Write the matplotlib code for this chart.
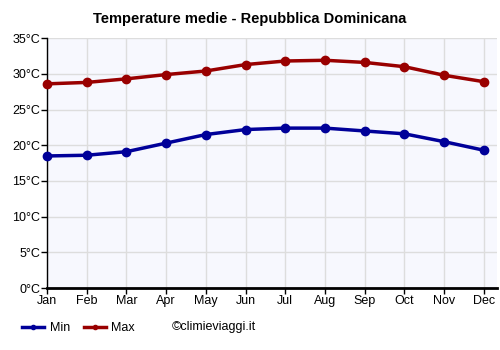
import matplotlib
matplotlib.use("Agg")
import matplotlib.pyplot as plt
from matplotlib.lines import Line2D

months = ['Jan', 'Feb', 'Mar', 'Apr', 'May', 'Jun', 'Jul', 'Aug', 'Sep', 'Oct', 'Nov', 'Dec']
t_min = [18.5, 18.6, 19.1, 20.3, 21.5, 22.2, 22.4, 22.4, 22.0, 21.6, 20.5, 19.3]
t_max = [28.6, 28.8, 29.3, 29.9, 30.4, 31.3, 31.8, 31.9, 31.6, 31.0, 29.8, 28.9]
yticks = [0, 5, 10, 15, 20, 25, 30, 35]

plt.rcParams['font.family'] = ['Liberation Sans', 'DejaVu Sans']

fig = plt.figure(figsize=(5, 3.5), dpi=100)
ax = fig.add_axes([0.094, 0.177, 0.9, 0.714])
ax.set_facecolor('#f7f8fe')

x = list(range(len(months)))
c_min = '#000099'
c_max = '#990000'
ax.plot(x, t_min, color=c_min, lw=2.5, marker='o', ms=6, zorder=3, clip_on=False)
ax.plot(x, t_max, color=c_max, lw=2.5, marker='o', ms=6, zorder=3, clip_on=False)

ax.set_xlim(0, 11.33)
ax.set_ylim(0, 35)
ax.set_xticks(x)
ax.set_xticklabels(months, fontsize=9)
ax.set_yticks(yticks)
ax.set_yticklabels([f'{v}°C' for v in yticks], fontsize=9)
ax.grid(True, color='#dddddd', lw=1)
ax.set_axisbelow(True)
for s in ['top', 'right']:
    ax.spines[s].set_visible(False)
ax.spines['left'].set_linewidth(1)
ax.spines['bottom'].set_linewidth(2)
ax.tick_params(axis='both', length=4, width=1, pad=1)

fig.suptitle('Temperature medie - Repubblica Dominicana', fontsize=10.5, fontweight='bold', y=0.967)

handles = [Line2D([], [], color=c_min, lw=2.5, marker='o', ms=3),
           Line2D([], [], color=c_max, lw=2.5, marker='o', ms=3)]
fig.legend(handles, ['Min', 'Max'], loc='lower left', bbox_to_anchor=(0.027, 0.02),
           ncol=2, frameon=False, fontsize=9, handlelength=1.75, columnspacing=1.1,
           handletextpad=0.45, borderaxespad=0.3)
fig.text(0.344, 0.065, '©climieviaggi.it', fontsize=9, va='center')

fig.savefig('out.png', dpi=100)
